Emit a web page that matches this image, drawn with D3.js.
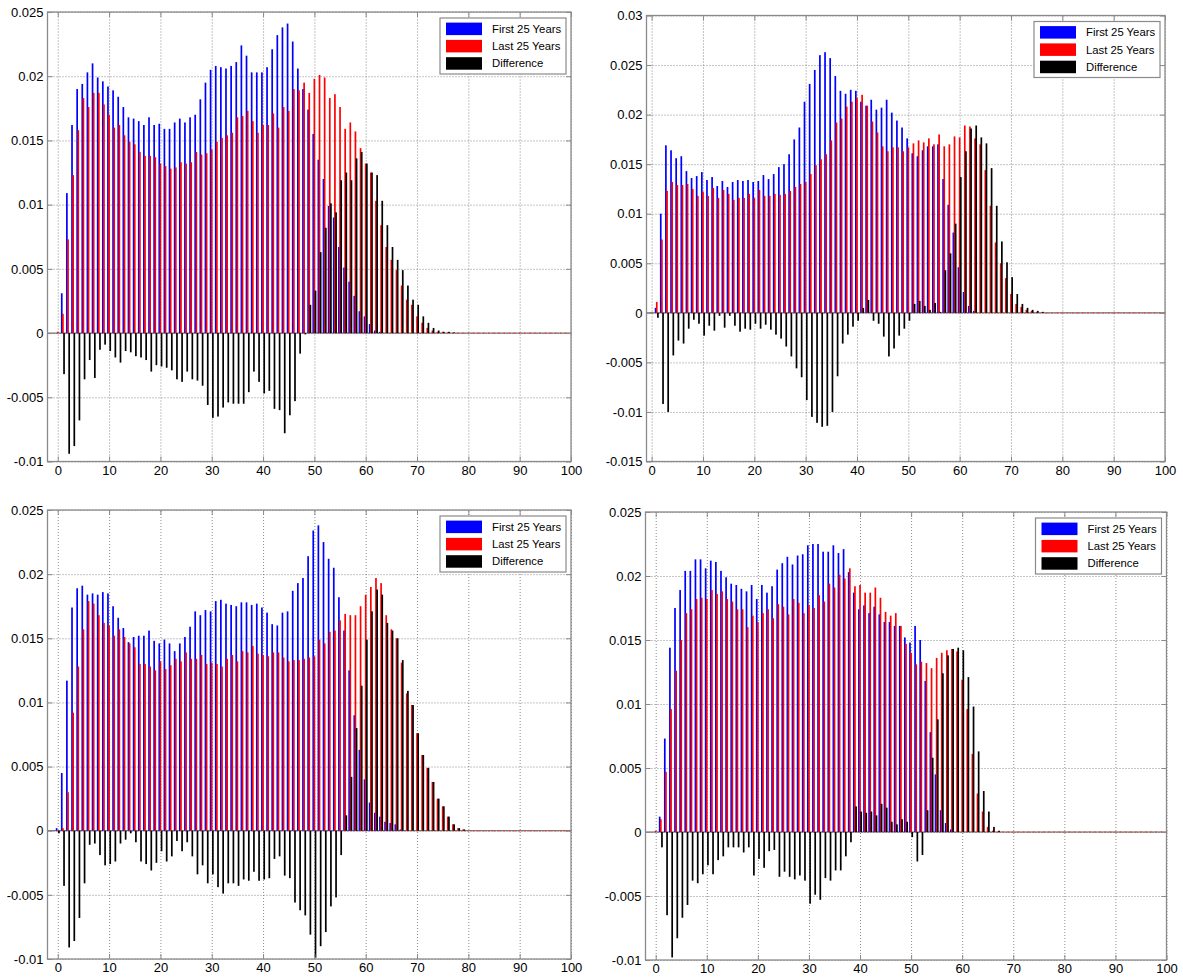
<!DOCTYPE html>
<html>
<head>
<meta charset="utf-8">
<script src="https://cdn.jsdelivr.net/npm/d3@7"></script>
<style>
  body { margin: 0; background: #fff; }
  svg { display: block; font-family: "Liberation Sans", Arial, sans-serif; }
</style>
</head>
<body>
<div id="chart"></div>
<script>
// ages 0..100, one group of three bars per age
const ages = d3.range(0, 101);
const seriesNames = ["First 25 Years", "Last 25 Years", "Difference"];
const seriesColors = ["#0000ff", "#ff0000", "#000000"];
const xTicks = [0, 10, 20, 30, 40, 50, 60, 70, 80, 90, 100];
const yTicksA = [-0.01, -0.005, 0, 0.005, 0.01, 0.015, 0.02, 0.025];
const yTicksB = [-0.015, -0.01, -0.005, 0, 0.005, 0.01, 0.015, 0.02, 0.025, 0.03];

// top left
const first1 = [
  0, .0031, .0109, .0162, .0190, .0194, .0203, .0210, .0199, .0196,
  .0192, .0189, .0184, .0176, .0168, .0167, .0165, .0162, .0168, .0162,
  .0163, .0159, .0159, .0164, .0167, .0164, .0168, .0170, .0182, .0195,
  .0205, .0208, .0207, .0206, .0208, .0211, .0224, .0216, .0203, .0203,
  .0203, .0207, .0221, .0232, .0238, .0241, .0227, .0206, .0190, .0174,
  .0155, .0135, .0120, .0099, .0090, .0067, .0051, .0040, .0029, .0017,
  .0013, .0007, .0002, .0001, 0, 0, 0, 0, 0, 0,
  0, 0, 0, 0, 0, 0, 0, 0, 0, 0,
  0, 0, 0, 0, 0, 0, 0, 0, 0, 0,
  0, 0, 0, 0, 0, 0, 0, 0, 0, 0,
  0];
const last1 = [
  .0001, .0015, .0073, .0123, .0158, .0183, .0176, .0187, .0187, .0178,
  .0170, .0160, .0162, .0154, .0149, .0147, .0141, .0138, .0138, .0137,
  .0132, .0130, .0128, .0129, .0133, .0132, .0133, .0141, .0139, .0140,
  .0143, .0149, .0152, .0154, .0156, .0168, .0169, .0173, .0165, .0156,
  .0162, .0162, .0171, .0160, .0176, .0173, .0190, .0189, .0195, .0187,
  .0198, .0201, .0199, .0183, .0186, .0176, .0159, .0164, .0157, .0144,
  .0132, .0125, .0103, .0084, .0067, .0057, .0049, .0037, .0026, .0022,
  .0013, .0008, .0004, .0002, .0001, .0001, .00005, .00003, 0, 0,
  0, 0, 0, 0, 0, 0, 0, 0, 0, 0,
  0, 0, 0, 0, 0, 0, 0, 0, 0, 0,
  0];
const diff1 = [
  0, -.0032, -.0094, -.0088, -.0068, -.0036, -.0021, -.0035, -.0013, -.0009,
  -.0014, -.0019, -.0023, -.0014, -.0015, -.0018, -.0019, -.0021, -.0030, -.0025,
  -.0026, -.0027, -.0029, -.0036, -.0038, -.0030, -.0036, -.0037, -.0041, -.0056,
  -.0066, -.0065, -.0058, -.0054, -.0055, -.0055, -.0055, -.0046, -.0030, -.0038,
  -.0047, -.0045, -.0059, -.0060, -.0078, -.0064, -.0053, -.0016, -.0001, .0022,
  .0033, .0063, .0082, .0101, .0094, .0119, .0125, .0119, .0136, .0141,
  .0132, .0125, .0123, .0103, .0084, .0067, .0057, .0049, .0037, .0026,
  .0022, .0013, .0008, .0004, .0002, .0001, .0001, .00005, 0, 0,
  0, 0, 0, 0, 0, 0, 0, 0, 0, 0,
  0, 0, 0, 0, 0, 0, 0, 0, 0, 0,
  0];

// top right
const first2 = [
  0, .0005, .0100, .0169, .0164, .0156, .0158, .0143, .0136, .0138,
  .0142, .0134, .0137, .0128, .0133, .0127, .0132, .0134, .0133, .0134,
  .0132, .0133, .0139, .0135, .0140, .0147, .0150, .0160, .0175, .0187,
  .0213, .0231, .0245, .0260, .0263, .0257, .0239, .0224, .0221, .0225,
  .0224, .0213, .0209, .0215, .0205, .0207, .0215, .0202, .0194, .0187,
  .0176, .0161, .0158, .0164, .0168, .0168, .0170, .0135, .0109, .0081,
  .0046, .0021, .0007, .0002, 0, 0, 0, 0, 0, 0,
  0, 0, 0, 0, 0, 0, 0, 0, 0, 0,
  0, 0, 0, 0, 0, 0, 0, 0, 0, 0,
  0, 0, 0, 0, 0, 0, 0, 0, 0, 0,
  0];
const last2 = [
  0, .0011, .0074, .0123, .0132, .0129, .0129, .0130, .0125, .0118,
  .0122, .0118, .0126, .0116, .0124, .0120, .0114, .0116, .0116, .0120,
  .0116, .0124, .0118, .0118, .0120, .0119, .0120, .0123, .0127, .0130,
  .0132, .0140, .0149, .0155, .0160, .0174, .0192, .0196, .0208, .0213,
  .0217, .0220, .0209, .0193, .0182, .0168, .0163, .0167, .0167, .0163,
  .0167, .0171, .0174, .0172, .0176, .0170, .0180, .0168, .0170, .0178,
  .0177, .0189, .0188, .0176, .0170, .0144, .0108, .0071, .0050, .0035,
  .0019, .0009, .0006, .0003, .0002, .0001, .00005, 0, 0, 0,
  0, 0, 0, 0, 0, 0, 0, 0, 0, 0,
  0, 0, 0, 0, 0, 0, 0, 0, 0, 0,
  0];
const diff2 = [
  0, -.0005, -.0092, -.0100, -.0043, -.0028, -.0031, -.0016, -.0007, -.0011,
  -.0023, -.0013, -.0018, -.0003, -.0015, -.0003, -.0013, -.0019, -.0016, -.0017,
  -.0011, -.0016, -.0012, -.0017, -.0022, -.0026, -.0034, -.0044, -.0056, -.0065,
  -.0088, -.0105, -.0111, -.0115, -.0114, -.0100, -.0064, -.0031, -.0022, -.0014,
  -.0008, .0005, .0013, -.0008, -.0011, -.0024, -.0044, -.0036, -.0023, -.0016,
  -.0008, .0009, .0012, .0007, .0003, .0010, .0001, .0043, .0060, .0090,
  .0137, .0163, .0186, .0189, .0177, .0171, .0146, .0108, .0072, .0051,
  .0036, .0019, .0009, .0005, .0003, .0002, .0001, 0, 0, 0,
  0, 0, 0, 0, 0, 0, 0, 0, 0, 0,
  0, 0, 0, 0, 0, 0, 0, 0, 0, 0,
  0];

// bottom left
const first3 = [
  .0002, .0045, .0117, .0174, .0189, .0191, .0184, .0185, .0184, .0186,
  .0185, .0175, .0166, .0158, .0147, .0151, .0152, .0152, .0156, .0148,
  .0146, .0149, .0146, .0140, .0146, .0151, .0159, .0171, .0168, .0172,
  .0171, .0179, .0180, .0177, .0176, .0175, .0178, .0178, .0176, .0177,
  .0174, .0170, .0161, .0160, .0170, .0171, .0187, .0193, .0197, .0214,
  .0234, .0238, .0225, .0212, .0205, .0182, .0156, .0125, .0090, .0063,
  .0040, .0022, .0014, .0011, .0007, .0006, .0005, .0001, 0, 0,
  0, 0, 0, 0, 0, 0, 0, 0, 0, 0,
  0, 0, 0, 0, 0, 0, 0, 0, 0, 0,
  0, 0, 0, 0, 0, 0, 0, 0, 0, 0,
  0];
const last3 = [
  0, .0002, .0030, .0092, .0128, .0157, .0179, .0177, .0168, .0162,
  .0160, .0152, .0157, .0151, .0146, .0143, .0130, .0130, .0128, .0125,
  .0132, .0126, .0129, .0134, .0132, .0139, .0134, .0134, .0137, .0130,
  .0131, .0130, .0128, .0134, .0137, .0132, .0140, .0139, .0144, .0138,
  .0137, .0136, .0139, .0139, .0135, .0132, .0133, .0133, .0134, .0135,
  .0136, .0149, .0146, .0155, .0156, .0164, .0169, .0168, .0168, .0175,
  .0184, .0190, .0197, .0193, .0168, .0157, .0150, .0131, .0107, .0098,
  .0076, .0059, .0049, .0038, .0025, .0019, .0011, .0005, .0002, .0001,
  0, 0, 0, 0, 0, 0, 0, 0, 0, 0,
  0, 0, 0, 0, 0, 0, 0, 0, 0, 0,
  0];
const diff3 = [
  -.0002, -.0043, -.0091, -.0086, -.0068, -.0041, -.0011, -.0010, -.0019, -.0027,
  -.0026, -.0024, -.0010, -.0007, -.0002, -.0009, -.0024, -.0026, -.0031, -.0025,
  -.0016, -.0024, -.0020, -.0008, -.0016, -.0009, -.0020, -.0034, -.0027, -.0041,
  -.0034, -.0044, -.0049, -.0041, -.0041, -.0043, -.0038, -.0039, -.0032, -.0039,
  -.0038, -.0037, -.0022, -.0020, -.0035, -.0037, -.0056, -.0062, -.0066, -.0081,
  -.0099, -.0090, -.0079, -.0059, -.0052, -.0019, .0012, .0042, .0080, .0113,
  .0149, .0171, .0188, .0184, .0162, .0156, .0150, .0133, .0109, .0098,
  .0076, .0059, .0049, .0038, .0025, .0019, .0011, .0005, .0002, .0001,
  0, 0, 0, 0, 0, 0, 0, 0, 0, 0,
  0, 0, 0, 0, 0, 0, 0, 0, 0, 0,
  0];

// bottom right
const first4 = [
  0, .0012, .0073, .0144, .0175, .0189, .0204, .0204, .0213, .0213,
  .0206, .0212, .0211, .0204, .0199, .0194, .0193, .0190, .0188, .0193,
  .0182, .0193, .0187, .0192, .0205, .0210, .0215, .0209, .0216, .0217,
  .0224, .0225, .0225, .0219, .0219, .0224, .0218, .0221, .0203, .0187,
  .0174, .0177, .0171, .0176, .0170, .0164, .0164, .0161, .0161, .0152,
  .0148, .0161, .0150, .0118, .0078, .0045, .0017, .0007, .0002, 0,
  0, 0, 0, 0, 0, 0, 0, 0, 0, 0,
  0, 0, 0, 0, 0, 0, 0, 0, 0, 0,
  0, 0, 0, 0, 0, 0, 0, 0, 0, 0,
  0, 0, 0, 0, 0, 0, 0, 0, 0, 0,
  0];
const last4 = [
  .0001, .0010, .0047, .0096, .0126, .0150, .0171, .0174, .0182, .0183,
  .0182, .0189, .0186, .0188, .0182, .0180, .0174, .0174, .0160, .0169,
  .0164, .0171, .0174, .0167, .0178, .0176, .0170, .0182, .0179, .0171,
  .0177, .0175, .0185, .0180, .0194, .0191, .0201, .0198, .0206, .0192,
  .0193, .0187, .0187, .0191, .0183, .0172, .0169, .0171, .0161, .0147,
  .0140, .0131, .0133, .0132, .0128, .0136, .0140, .0142, .0143, .0141,
  .0119, .0096, .0061, .0030, .0016, .0004, .0001, 0, 0, 0,
  0, 0, 0, 0, 0, 0, 0, 0, 0, 0,
  0, 0, 0, 0, 0, 0, 0, 0, 0, 0,
  0, 0, 0, 0, 0, 0, 0, 0, 0, 0,
  0];
const diff4 = [
  0, -.0012, -.0065, -.0098, -.0083, -.0067, -.0057, -.0038, -.0040, -.0033,
  -.0026, -.0033, -.0022, -.0019, -.0012, -.0012, -.0012, -.0016, -.0012, -.0034,
  -.0021, -.0028, -.0015, -.0014, -.0035, -.0031, -.0035, -.0037, -.0034, -.0038,
  -.0056, -.0049, -.0053, -.0036, -.0038, -.0030, -.0030, -.0019, -.0008, .0020,
  .0016, .0015, .0016, .0013, .0022, .0019, .0008, .0006, .0010, .0008,
  -.0004, -.0023, -.0018, .0017, .0058, .0088, .0124, .0138, .0143, .0144,
  .0142, .0121, .0098, .0063, .0032, .0016, .0004, .0001, 0, 0,
  0, 0, 0, 0, 0, 0, 0, 0, 0, 0,
  0, 0, 0, 0, 0, 0, 0, 0, 0, 0,
  0, 0, 0, 0, 0, 0, 0, 0, 0, 0,
  0];

const panels = [
  { series: [first1, last1, diff1], yTicks: yTicksA, xMin: -2, left: 47.5, right: 571, top: 12, bottom: 461.5 },
  { series: [first2, last2, diff2], yTicks: yTicksB, xMin: -1, left: 646.5, right: 1165, top: 15.5, bottom: 461.5 },
  { series: [first3, last3, diff3], yTicks: yTicksA, xMin: -2, left: 47.5, right: 571, top: 510, bottom: 959 },
  { series: [first4, last4, diff4], yTicks: yTicksA, xMin: -2, left: 645.5, right: 1166.5, top: 512, bottom: 960 },
];

const width = 1183, height = 980;
const offsets = [-0.222, 0, 0.222];   // grouped bar offsets
const barW = 1.7;
const boxColor = "#8a8a8a";
const yFmt = d => String(+d.toFixed(3));

const svg = d3.select("#chart").append("svg")
    .attr("width", width)
    .attr("height", height)
    .attr("viewBox", [0, 0, width, height]);

svg.append("rect").attr("width", width).attr("height", height).attr("fill", "#fff");

panels.forEach(p => {
    const x = d3.scaleLinear().domain([p.xMin, 100]).range([p.left, p.right]);
    const y = d3.scaleLinear().domain(d3.extent(p.yTicks)).range([p.bottom, p.top]);
    const g = svg.append("g");
    const w = p.right - p.left, h = p.bottom - p.top;

    // dotted grid
    g.append("g")
        .attr("transform", `translate(0,${p.bottom})`)
        .call(d3.axisBottom(x).tickValues(xTicks).tickSize(-h).tickFormat(""))
        .call(a => a.select(".domain").remove())
        .call(a => a.selectAll(".tick line").attr("stroke", "#6f6f6f").attr("stroke-dasharray", "1,2").attr("stroke-width", 0.8));
    g.append("g")
        .attr("transform", `translate(${p.left},0)`)
        .call(d3.axisLeft(y).tickValues(p.yTicks).tickSize(-w).tickFormat(""))
        .call(a => a.select(".domain").remove())
        .call(a => a.selectAll(".tick line").attr("stroke", "#6f6f6f").attr("stroke-dasharray", "1,2").attr("stroke-width", 0.8));

    // baseline
    g.append("line")
        .attr("x1", x(p.xMin)).attr("x2", x(100))
        .attr("y1", y(0)).attr("y2", y(0))
        .attr("stroke", "#333").attr("stroke-width", 0.8);

    // bars
    p.series.forEach((vals, s) => {
        const rows = ages.map((a, i) => ({ a, v: vals[i] })).filter(d => d.v !== undefined);
        g.append("g")
            .selectAll("rect")
            .data(rows.filter(d => d.v !== 0))
            .join("rect")
            .attr("x", d => x(d.a + offsets[s]) - barW / 2)
            .attr("width", barW)
            .attr("y", d => y(Math.max(0, d.v)))
            .attr("height", d => Math.max(0.6, Math.abs(y(d.v) - y(0))))
            .attr("fill", seriesColors[s]);
        if (s === 1) {
            // zero-height red bars leave small marks on the baseline
            g.append("g")
                .selectAll("rect")
                .data(rows.filter(d => d.v === 0))
                .join("rect")
                .attr("x", d => x(d.a + offsets[s]) - barW / 2)
                .attr("width", barW)
                .attr("y", y(0) - 0.6)
                .attr("height", 1.2)
                .attr("fill", "#ff4040");
        }
    });

    // box
    g.append("rect")
        .attr("x", p.left).attr("y", p.top)
        .attr("width", w).attr("height", h)
        .attr("fill", "none").attr("stroke", boxColor).attr("stroke-width", 1.3);

    // ticks + labels
    g.append("g")
        .attr("transform", `translate(0,${p.bottom})`)
        .call(d3.axisBottom(x).tickValues(xTicks).tickSizeInner(-5).tickSizeOuter(0).tickPadding(4))
        .call(a => a.select(".domain").remove())
        .call(a => a.selectAll(".tick line").attr("stroke", boxColor))
        .call(a => a.selectAll("text").attr("fill", "#000").attr("font-size", 13).attr("font-family", "Liberation Sans, Arial, sans-serif"));
    g.append("g")
        .attr("transform", `translate(0,${p.top})`)
        .call(d3.axisTop(x).tickValues(xTicks).tickSizeInner(-5).tickSizeOuter(0).tickFormat(""))
        .call(a => a.select(".domain").remove())
        .call(a => a.selectAll(".tick line").attr("stroke", boxColor));
    g.append("g")
        .attr("transform", `translate(${p.left},0)`)
        .call(d3.axisLeft(y).tickValues(p.yTicks).tickSizeInner(-5).tickSizeOuter(0).tickPadding(4).tickFormat(yFmt))
        .call(a => a.select(".domain").remove())
        .call(a => a.selectAll(".tick line").attr("stroke", boxColor))
        .call(a => a.selectAll("text").attr("fill", "#000").attr("font-size", 13).attr("font-family", "Liberation Sans, Arial, sans-serif"));
    g.append("g")
        .attr("transform", `translate(${p.right},0)`)
        .call(d3.axisRight(y).tickValues(p.yTicks).tickSizeInner(-5).tickSizeOuter(0).tickFormat(""))
        .call(a => a.select(".domain").remove())
        .call(a => a.selectAll(".tick line").attr("stroke", boxColor));

    // legend
    const lg = g.append("g").attr("transform", `translate(${p.right - 131},${p.top + 6})`);
    lg.append("rect")
        .attr("width", 126).attr("height", 56)
        .attr("fill", "#fff").attr("stroke", boxColor).attr("stroke-width", 1.2);
    seriesNames.forEach((name, i) => {
        lg.append("rect")
            .attr("x", 6).attr("y", 4.6 + i * 17.3)
            .attr("width", 36).attr("height", 12.5)
            .attr("fill", seriesColors[i]);
        lg.append("text")
            .attr("x", 52).attr("y", 10.9 + i * 17.3)
            .attr("dy", "0.35em")
            .attr("font-size", 11.3)
            .attr("fill", "#000")
            .text(name);
    });
});
</script>
</body>
</html>
